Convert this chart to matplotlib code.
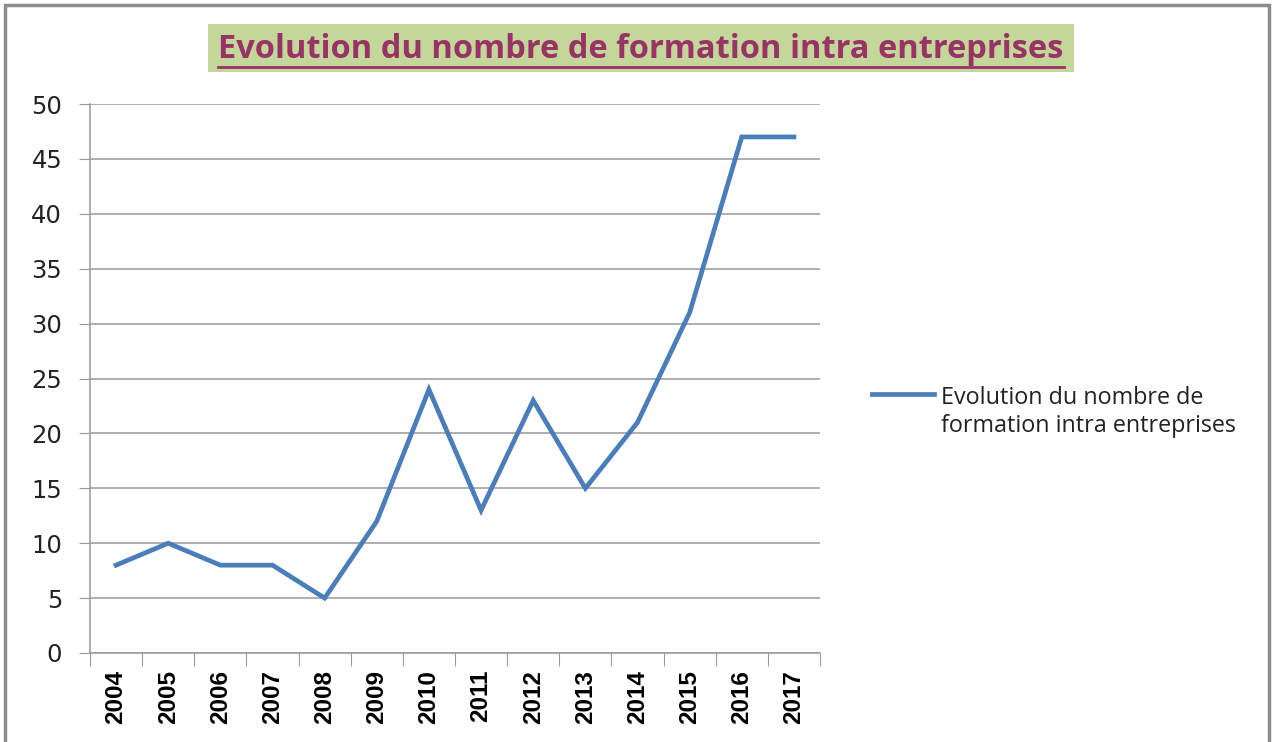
import matplotlib
matplotlib.use("Agg")
import matplotlib.pyplot as plt
from matplotlib.patches import Rectangle

years = ["2004", "2005", "2006", "2007", "2008", "2009", "2010", "2011",
         "2012", "2013", "2014", "2015", "2016", "2017"]
values = [8, 10, 8, 8, 5, 12, 24, 13, 23, 15, 21, 31, 47, 47]
series_name = "Evolution du nombre de\nformation intra entreprises"
title = "Evolution du nombre de formation intra entreprises"

W, H = 1274, 742
fig = plt.figure(figsize=(W / 100, H / 100), dpi=100)
fig.patch.set_facecolor("white")

# outer border
fig.add_artist(Rectangle((5 / W, -0.01), (1269 - 5) / W, (H - 5) / H + 0.01,
                         transform=fig.transFigure, fill=False,
                         edgecolor="#8c8c8c", linewidth=2.5))

# title background
fig.add_artist(Rectangle((208 / W, 1 - 72 / H), (1074 - 208) / W, 48 / H,
                         transform=fig.transFigure, facecolor="#c4d79b",
                         edgecolor="none"))
fig.text((208 + 1074) / 2 / W, 1 - 49 / H, title, ha="center", va="center",
         fontsize=23.5, fontweight="bold", color="#993366", family="Open Sans")
fig.add_artist(plt.Line2D([218 / W, 1064 / W], [1 - 67 / H, 1 - 67 / H],
                          transform=fig.transFigure, color="#993366",
                          linewidth=2))

ax = fig.add_axes([90 / W, 1 - 653 / H, (820 - 90) / W, (653 - 104) / H])
n = len(years)
xs = list(range(n))
line, = ax.plot(xs, values, color="#4a7ebb", linewidth=3.4,
                solid_joinstyle="miter", label=series_name)
ax.set_xlim(-0.5, n - 0.5)
ax.set_ylim(0, 50)
ax.set_yticks(range(0, 51, 5))
ax.set_yticklabels([str(v) for v in range(0, 51, 5)], fontsize=17.5,
                   family="DejaVu Sans", color="#222222")
ax.set_xticks([i - 0.5 for i in range(n + 1)])
ax.set_xticklabels([])
ax.set_xticks(xs, minor=True)
ax.set_xticklabels(years, minor=True, rotation=90, fontsize=17.5,
                   fontweight="bold", family="Liberation Sans", color="black")
ax.tick_params(axis="x", which="minor", length=0, pad=12)
ax.tick_params(axis="x", which="major", length=9, color="#999999",
               direction="out")
ax.tick_params(axis="y", length=8, color="#999999", direction="out", pad=12)
ax.grid(axis="y", color="#999999", linewidth=1.1)
ax.set_axisbelow(True)
for s in ["top", "right"]:
    ax.spines[s].set_visible(False)
for s in ["left", "bottom"]:
    ax.spines[s].set_color("#999999")
    ax.spines[s].set_linewidth(1.1)

leg = fig.legend(handles=[line], loc="center left",
                 bbox_to_anchor=(872 / W, 1 - 412 / H), frameon=False,
                 prop={"family": "Open Sans", "size": 16.8}, handlelength=2.65,
                 handletextpad=0.3, borderpad=0, borderaxespad=0)
for t in leg.get_texts():
    t.set_color("#222222")
for col in leg._legend_handle_box.get_children():
    for hp in col.get_children():
        hp.align = "top"

fig.savefig("out.png", dpi=100, facecolor="white")
